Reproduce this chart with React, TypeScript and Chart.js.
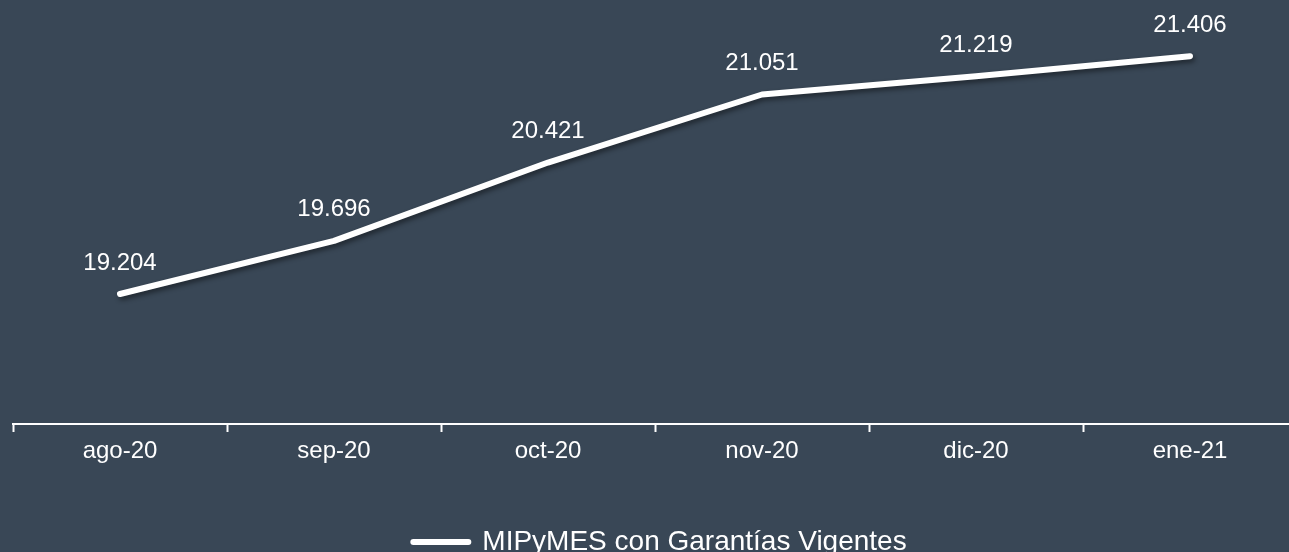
import React, { useEffect, useRef } from "react";
import { Chart, registerables } from "chart.js";

Chart.register(...registerables);

const categories = ["ago-20", "sep-20", "oct-20", "nov-20", "dic-20", "ene-21"];
const seriesValues = [19204, 19696, 20421, 21051, 21219, 21406];
const seriesName = "MIPyMES con Garantías Vigentes";

const BG = "#394756";
const FONT = "'Liberation Sans', Arial, sans-serif";

function fmt(v: number): string {
  const s = Math.round(v).toString();
  return s.replace(/\B(?=(\d{3})+(?!\d))/g, ".");
}

const shadowPlugin = {
  id: "lineShadow",
  beforeDatasetDraw(chart: any) {
    const ctx = chart.ctx;
    ctx.save();
    ctx.shadowColor = "rgba(0,0,0,0.45)";
    ctx.shadowBlur = 5;
    ctx.shadowOffsetX = 2;
    ctx.shadowOffsetY = 3;
  },
  afterDatasetDraw(chart: any) {
    chart.ctx.restore();
  },
};

const legendShift = {
  id: "legendShift",
  afterLayout(chart: any) {
    if (chart.legend) {
      chart.legend.left += 5;
      chart.legend.right += 5;
    }
  },
};

const labelPlugin = {
  id: "valueLabels",
  afterDatasetsDraw(chart: any) {
    const ctx = chart.ctx;
    const meta = chart.getDatasetMeta(0);
    ctx.save();
    ctx.fillStyle = "#ffffff";
    ctx.font = `24px ${FONT}`;
    ctx.textAlign = "center";
    ctx.textBaseline = "middle";
    meta.data.forEach((pt: any, i: number) => {
      ctx.fillText(fmt(seriesValues[i]), pt.x, pt.y - 31);
    });
    ctx.restore();
  },
};

export default function App() {
  const ref = useRef<HTMLCanvasElement | null>(null);
  useEffect(() => {
    document.body.style.margin = "0";
    document.body.style.overflow = "hidden";
    document.body.style.background = BG;
    document.documentElement.style.overflow = "hidden";
    const chart = new Chart(ref.current as HTMLCanvasElement, {
      type: "line",
      data: {
        labels: categories,
        datasets: [
          {
            label: seriesName,
            data: seriesValues,
            borderColor: "#ffffff",
            backgroundColor: "#ffffff",
            borderWidth: 6,
            borderCapStyle: "round",
            borderJoinStyle: "round",
            pointRadius: 0,
            tension: 0,
          },
        ],
      },
      options: {
        animation: false,
        responsive: true,
        maintainAspectRatio: false,
        layout: { padding: { left: 13, right: 8, top: 46, bottom: 0 } },
        scales: {
          x: {
            offset: true,
            grid: {
              offset: true,
              drawOnChartArea: false,
              drawTicks: true,
              tickLength: 8,
              tickWidth: 2,
              color: "#ffffff",
            },
            border: { display: true, color: "#ffffff", width: 2 },
            ticks: {
              color: "#ffffff",
              font: { family: FONT, size: 24 },
              padding: 5,
              maxRotation: 0,
            },
            afterFit(scale: any) {
              scale.height = 60;
            },
          },
          y: {
            display: false,
            min: 18000,
            max: 21500,
          },
        },
        plugins: {
          legend: {
            position: "bottom",
            labels: {
              color: "#ffffff",
              font: { family: FONT, size: 28 },
              boxWidth: 55,
              boxHeight: 0,
              padding: 44,
            },
          },
          tooltip: { enabled: false },
        },
      },
      plugins: [shadowPlugin, labelPlugin, legendShift],
    });
    return () => chart.destroy();
  }, []);
  return (
    <div
      style={{
        position: "absolute",
        left: 0,
        top: 0,
        width: 1305,
        height: 566,
        background: BG,
      }}
    >
      <canvas ref={ref} />
    </div>
  );
}
